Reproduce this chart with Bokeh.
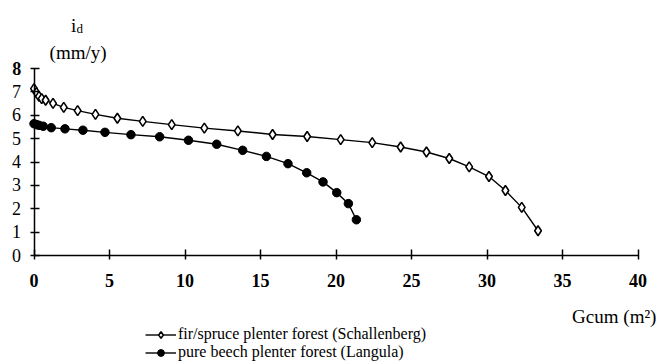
import math
from bokeh.plotting import figure
from bokeh.models import Range1d, Label, Legend, LegendItem, FixedTicker
from bokeh.embed import file_html
from bokeh.resources import INLINE

# Data
fir_x = [0.0, 0.16, 0.33, 0.51, 0.77, 1.26, 1.97, 2.89, 4.07, 5.52, 7.20, 9.12,
         11.28, 13.50, 15.80, 18.09, 20.31, 22.40, 24.28, 25.99, 27.50, 28.82,
         30.13, 31.22, 32.30, 33.38]
fir_y = [7.14, 6.97, 6.81, 6.71, 6.64, 6.51, 6.34, 6.20, 6.04, 5.87, 5.74, 5.60,
         5.45, 5.33, 5.18, 5.09, 4.96, 4.83, 4.64, 4.43, 4.15, 3.79,
         3.38, 2.78, 2.06, 1.06]
beech_x = [0.0, 0.16, 0.33, 0.61, 1.14, 2.05, 3.24, 4.70, 6.42, 8.32, 10.23,
           12.10, 13.82, 15.39, 16.82, 18.06, 19.14, 20.05, 20.82, 21.35]
beech_y = [5.64, 5.60, 5.57, 5.53, 5.47, 5.42, 5.36, 5.27, 5.17, 5.08, 4.93,
           4.76, 4.50, 4.24, 3.93, 3.54, 3.15, 2.69, 2.22, 1.53]
x_ticks = [0, 5, 10, 15, 20, 25, 30, 35, 40]
y_ticks = [0, 1, 2, 3, 4, 5, 6, 7, 8]
fir_label = "fir/spruce plenter forest (Schallenberg)"
beech_label = "pure beech plenter forest (Langula)"

FONT = "Liberation Serif"

# frame covers the whole canvas; axes are placed at x=0 / y=0
p = figure(width=657, height=362, output_backend="svg", toolbar_location=None,
           x_range=Range1d(-2.219, 41.291), y_range=Range1d(-4.577, 10.910),
           min_border_left=0, min_border_right=0, min_border_top=0,
           min_border_bottom=0)
p.outline_line_color = None
p.grid.visible = False
p.background_fill_color = "white"
p.border_fill_color = "white"

for ax in (p.xaxis[0], p.yaxis[0]):
    ax.fixed_location = 0
    ax.axis_line_color = "black"
    ax.axis_line_width = 1.5
    ax.major_tick_line_color = "black"
    ax.major_tick_line_width = 1.5
    ax.minor_tick_line_color = None
    ax.major_label_text_font = FONT
    ax.major_label_text_color = "black"
    ax.major_label_text_font_size = "18px"

xa = p.xaxis[0]
xa.ticker = FixedTicker(ticks=x_ticks)
xa.bounds = (0, 40)
xa.major_tick_in = 6
xa.major_tick_out = 4
xa.major_label_standoff = 14
xa.major_label_text_font_style = "bold"

ya = p.yaxis[0]
ya.ticker = FixedTicker(ticks=y_ticks)
ya.bounds = (0, 8)
ya.major_tick_in = 5
ya.major_tick_out = 4
ya.major_label_standoff = 9
ya.major_label_overrides = {8: " "}

# series
l1 = p.line(fir_x, fir_y, line_color="black", line_width=1.4)
s1 = p.scatter(fir_x, fir_y, marker="diamond", size=10,
               fill_color="white", line_color="black", line_width=1.6)
l2 = p.line(beech_x, beech_y, line_color="black", line_width=1.4)
s2 = p.scatter(beech_x, beech_y, marker="circle", size=8.5,
               fill_color="black", line_color="black", line_width=1)

# texts
p.add_layout(Label(x=-0.85, y=8, text="8", text_font=FONT, text_font_size="18px",
                   text_font_style="bold", text_align="right",
                   text_baseline="middle", text_color="black"))
p.add_layout(Label(x=2.45, y=9.82, text="i", text_font=FONT, text_font_size="19px",
                   text_align="left", text_baseline="alphabetic", text_color="black"))
p.add_layout(Label(x=2.81, y=9.70, text="d", text_font=FONT, text_font_size="13px",
                   text_align="left", text_baseline="alphabetic", text_color="black"))
p.add_layout(Label(x=1.03, y=8.68, text="(mm/y)", text_font=FONT, text_font_size="19px",
                   text_align="left", text_baseline="alphabetic", text_color="black"))
p.add_layout(Label(x=41.22, y=-2.62, text="Gcum (m²)", text_font=FONT,
                   text_font_size="19px", text_align="right",
                   text_baseline="alphabetic", text_color="black"))

legend = Legend(items=[LegendItem(label=fir_label, renderers=[l1, s1]),
                       LegendItem(label=beech_label, renderers=[l2, s2])],
                location=(145, 1))
legend.border_line_color = None
legend.background_fill_alpha = 0
legend.padding = 0
legend.margin = 0
legend.spacing = 0
legend.glyph_width = 31
legend.glyph_height = 17
legend.label_height = 17
legend.label_standoff = 2
legend.label_text_font = FONT
legend.label_text_font_size = "16px"
legend.label_text_color = "black"
p.add_layout(legend, "center")

open("out.html", "w").write(file_html(p, INLINE))
